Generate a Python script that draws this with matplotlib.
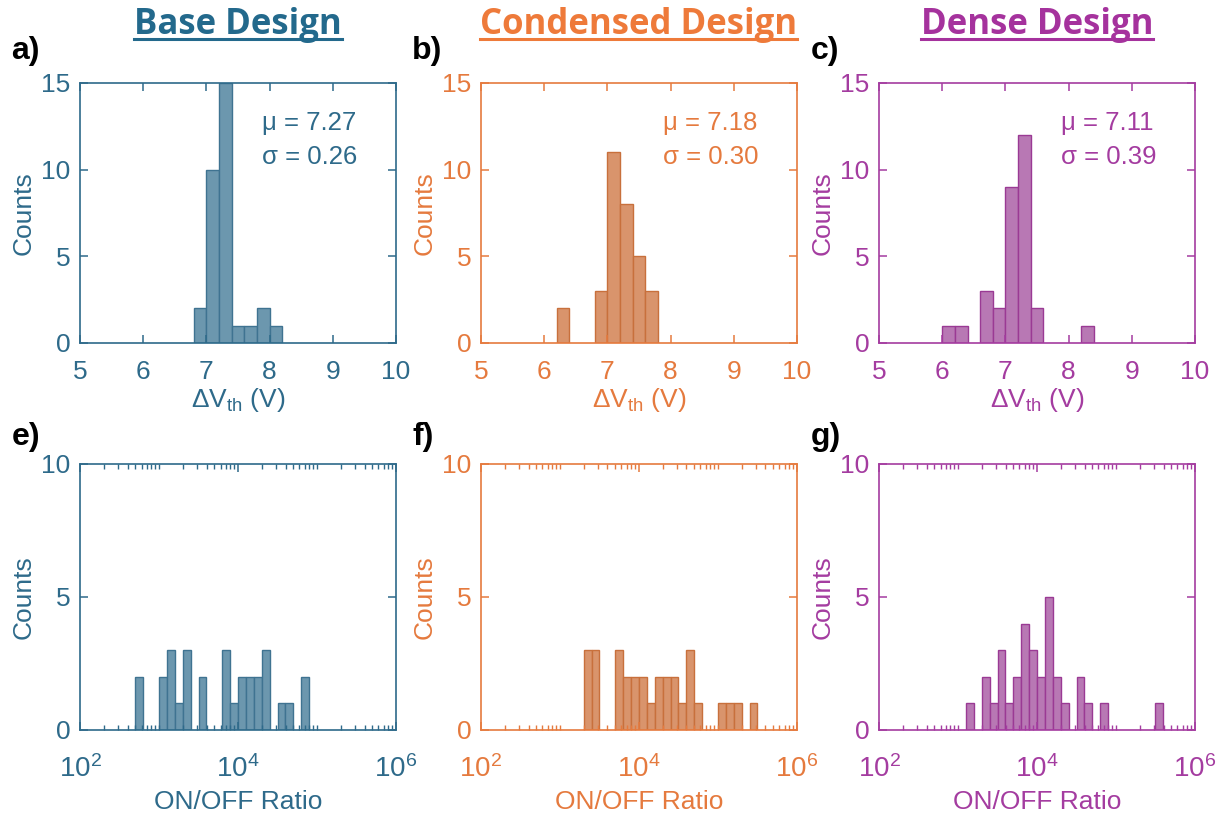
import matplotlib
matplotlib.use('Agg')
import matplotlib.pyplot as plt
import numpy as np
from matplotlib.lines import Line2D
from matplotlib.ticker import FixedLocator, LogFormatterMathtext, NullFormatter

plt.rcParams['font.family'] = ['Liberation Sans', 'DejaVu Sans']
plt.rcParams['mathtext.fontset'] = 'custom'
plt.rcParams['mathtext.rm'] = 'Liberation Sans'
plt.rcParams['mathtext.it'] = 'Liberation Sans:italic'

designs = ['Base Design', 'Condensed Design', 'Dense Design']
line_colors = ['#2E6A8A', '#E57A3E', '#A43CA0']
title_colors = ['#23698C', '#EE7A3A', '#A5329D']
face_colors = ['#6C97AE', '#D9946C', '#B878B4']
edge_colors = ['#3F7391', '#C8703C', '#9A3A94']
top_labels = ['a)', 'b)', 'c)']
bottom_labels = ['e)', 'f)', 'g)']

# threshold voltage shift histograms (bin edges in V)
vth_edges = [6.0, 6.2, 6.4, 6.6, 6.8, 7.0, 7.2, 7.4, 7.6, 7.8, 8.0, 8.2, 8.4]
vth_base = [0, 0, 0, 0, 2, 10, 15, 1, 1, 2, 1, 0]
vth_condensed = [0, 2, 0, 0, 3, 11, 8, 5, 3, 0, 0, 0]
vth_dense = [1, 1, 0, 3, 2, 9, 12, 2, 0, 0, 0, 1]
vth_mean = [7.27, 7.18, 7.11]
vth_std = [0.26, 0.30, 0.39]

# ON/OFF ratio histograms (bin edges as log10 of the ratio)
onoff_log_edges = [2.7, 2.8, 2.9, 3.0, 3.1, 3.2, 3.3, 3.4, 3.5, 3.6, 3.7, 3.8, 3.9, 4.0, 4.1,
                   4.2, 4.3, 4.4, 4.5, 4.6, 4.7, 4.8, 4.9, 5.0, 5.1, 5.2, 5.3, 5.4, 5.5, 5.6]
onoff_base = [2, 0, 0, 2, 3, 1, 3, 0, 2, 0, 0, 3, 1, 2, 2,
              2, 3, 0, 1, 1, 0, 2, 0, 0, 0, 0, 0, 0, 0]
onoff_condensed = [0, 0, 0, 0, 0, 0, 3, 3, 0, 0, 3, 2, 2, 2, 1,
                   2, 2, 2, 1, 3, 1, 0, 0, 1, 1, 1, 0, 1, 0]
onoff_dense = [0, 0, 0, 0, 1, 0, 2, 1, 3, 1, 2, 4, 3, 2, 5,
               2, 1, 0, 2, 1, 0, 1, 0, 0, 0, 0, 0, 0, 1]

vth_counts = [vth_base, vth_condensed, vth_dense]
onoff_counts = [onoff_base, onoff_condensed, onoff_dense]

fig = plt.figure(figsize=(12.26, 8.19), dpi=100)

lefts = [0.0653, 0.3923, 0.717]
width = 0.2577


def style_axes(ax, color):
    for s in ax.spines.values():
        s.set_color(color)
        s.set_linewidth(1.2)
    ax.tick_params(which='both', direction='in', top=True, right=True,
                   colors=color, labelsize=19)
    ax.tick_params(axis='x', pad=12)
    ax.tick_params(axis='y', pad=7)
    ax.tick_params(which='major', length=6, width=1.1)
    ax.tick_params(which='minor', length=3.5, width=1.0)


def draw_bars(ax, edges, counts, fc, ec):
    edges = np.asarray(edges)
    counts = np.asarray(counts)
    keep = counts > 0
    ax.bar(edges[:-1][keep], counts[keep], width=np.diff(edges)[keep], align='edge',
           color=fc, edgecolor=ec, linewidth=1.0)


for i in range(3):
    c = line_colors[i]

    # top row: threshold voltage shift
    ax = fig.add_axes([lefts[i], 0.5812, width, 0.3175])
    draw_bars(ax, vth_edges, vth_counts[i], face_colors[i], edge_colors[i])
    ax.set_xlim(5, 10)
    ax.set_ylim(0, 15)
    ax.set_xticks([5, 6, 7, 8, 9, 10])
    ax.set_yticks([0, 5, 10, 15])
    style_axes(ax, c)
    ax.set_ylabel('Counts', fontsize=19, color=c, labelpad=4)
    ax.set_xlabel(r'ΔV$_{\mathrm{th}}$ (V)', fontsize=19, color=c, labelpad=2)
    ax.text(0.575, 0.78, f'μ = {vth_mean[i]:.2f}\nσ = {vth_std[i]:.2f}',
            transform=ax.transAxes, fontsize=18.5, color=c, va='center',
            linespacing=1.5)

    # bottom row: ON/OFF ratio on log scale
    ax2 = fig.add_axes([lefts[i], 0.1087, width, 0.3248])
    log_edges = 10.0 ** np.asarray(onoff_log_edges)
    draw_bars(ax2, log_edges, onoff_counts[i], face_colors[i], edge_colors[i])
    ax2.set_xscale('log')
    ax2.set_xlim(1e2, 1e6)
    ax2.set_ylim(0, 10)
    ax2.set_yticks([0, 5, 10])
    ax2.xaxis.set_major_locator(FixedLocator([1e2, 1e4, 1e6]))
    ax2.xaxis.set_major_formatter(LogFormatterMathtext())
    minor = [k * 10.0 ** e for e in range(2, 6) for k in range(1, 10)
             if not (k == 1 and e % 2 == 0)]
    ax2.xaxis.set_minor_locator(FixedLocator(minor))
    ax2.xaxis.set_minor_formatter(NullFormatter())
    style_axes(ax2, c)
    ax2.tick_params(axis='x', labelsize=20, pad=18)
    ax2.set_ylabel('Counts', fontsize=19, color=c, labelpad=4)
    ax2.set_xlabel('ON/OFF Ratio', fontsize=19, color=c, labelpad=5)

    # panel letters
    fig.text(lefts[i] - 0.056, 0.938, top_labels[i], fontsize=23, fontweight='bold',
             color='black', va='center')
    fig.text(lefts[i] - 0.056, 0.466, bottom_labels[i], fontsize=23, fontweight='bold',
             color='black', va='center')

# column titles, underlined
titles = []
for i in range(3):
    t = fig.text(lefts[i] + width / 2, 0.970, designs[i], fontsize=25, fontweight='bold',
                 color=title_colors[i], ha='center', va='center', family=['Open Sans', 'DejaVu Sans'])
    titles.append(t)

fig.canvas.draw()
renderer = fig.canvas.get_renderer()
for i, t in enumerate(titles):
    bb = t.get_window_extent(renderer).transformed(fig.transFigure.inverted())
    y = bb.y0 + 0.004
    fig.add_artist(Line2D([bb.x0, bb.x1], [y, y], transform=fig.transFigure,
                          color=title_colors[i], linewidth=2.2))

fig.savefig('out.png', dpi=100)
